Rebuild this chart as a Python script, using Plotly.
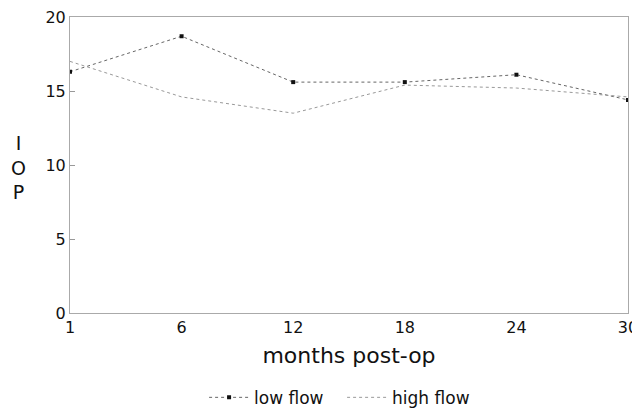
import plotly.graph_objects as go

months = ["1", "6", "12", "18", "24", "30"]
low_flow = [16.3, 18.7, 15.6, 15.6, 16.1, 14.4]
high_flow = [17.0, 14.6, 13.5, 15.4, 15.2, 14.6]
y_ticks = [0, 5, 10, 15, 20]

xpos = list(range(len(months)))

fig = go.Figure()
fig.add_trace(go.Scatter(
    x=xpos, y=low_flow, name="low flow", mode="lines+markers",
    line=dict(color="#666666", width=1, dash="dot"),
    marker=dict(color="#111111", size=4, symbol="square"),
))
fig.add_trace(go.Scatter(
    x=xpos, y=high_flow, name="high flow", mode="lines",
    line=dict(color="#999999", width=1, dash="dot"),
))

fig.update_layout(
    width=640, height=414,
    margin=dict(l=62, r=20, t=9, b=109, autoexpand=False),
    paper_bgcolor="white", plot_bgcolor="white",
    font=dict(family="DejaVu Sans, Liberation Sans, sans-serif", color="#111111"),
    showlegend=True,
    legend=dict(orientation="h", x=0.522, xanchor="center", xref="container",
                y=0.0585, yanchor="middle", yref="container",
                font=dict(size=17), itemwidth=40, entrywidth=83),
    xaxis=dict(
        range=[0, 5], tickmode="array", tickvals=xpos, ticktext=months,
        showgrid=False, zeroline=False, showline=True, linecolor="#aaaaaa",
        linewidth=1, mirror=True, ticks="", tickfont=dict(size=16),
        automargin=False, ticklabeloverflow="allow",
        title=dict(text="months post-op", font=dict(size=22), standoff=11),
    ),
    yaxis=dict(
        range=[0, 20], tickmode="array", tickvals=y_ticks,
        showgrid=False, zeroline=False, showline=True, linecolor="#aaaaaa",
        linewidth=1, mirror=True, ticks="inside", ticklen=5, tickcolor="#999999",
        tickfont=dict(size=16), automargin=False, ticklabeloverflow="allow",
    ),
    annotations=[dict(
        text="I<br>O<br>P", xref="paper", yref="paper", x=-0.093, y=0.49,
        xanchor="center", yanchor="middle", showarrow=False,
        font=dict(size=19), align="center",
    )],
)

fig.write_html("out.html")
